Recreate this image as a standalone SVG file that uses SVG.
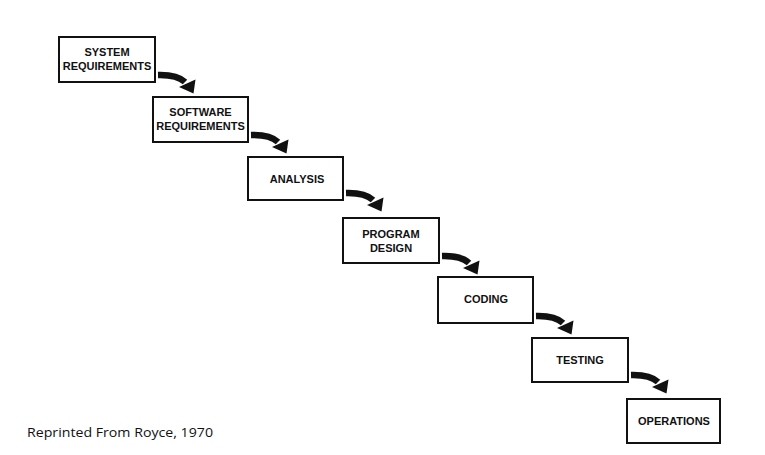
<svg xmlns="http://www.w3.org/2000/svg" width="765" height="455" viewBox="0 0 765 455">
<style>
.box{fill:#fff;stroke:#111;stroke-width:2}
.lbl{font-family:"Liberation Sans",Arial,sans-serif;font-weight:bold;font-size:11px;fill:#111;text-anchor:middle}
.note{font-family:"Open Sans","Liberation Sans",sans-serif;font-size:12.5px;fill:#111}
</style>
<defs>
<g id="arr">
<path d="M3,-7 Q22,-7.5 30,0" fill="none" stroke="#111" stroke-width="6.5"/>
<path d="M24,5 L40.5,-2.5 L38.5,11.5 Z" fill="#111"/>
</g>
</defs>
<rect width="765" height="455" fill="#fff"/>
<g id="connectors">
<use href="#arr" transform="translate(155,82)"/>
<use href="#arr" transform="translate(248,142)"/>
<use href="#arr" transform="translate(343,200)"/>
<use href="#arr" transform="translate(439,263)"/>
<use href="#arr" transform="translate(533,323)"/>
<use href="#arr" transform="translate(628,382)"/>
</g>
<g id="system-requirements">
<rect class="box" x="59" y="37" width="96" height="45"/>
<text class="lbl" x="107" y="56">SYSTEM</text>
<text class="lbl" x="107" y="70">REQUIREMENTS</text>
</g>
<g id="software-requirements">
<rect class="box" x="153" y="97" width="95" height="45"/>
<text class="lbl" x="200.5" y="116">SOFTWARE</text>
<text class="lbl" x="200.5" y="130">REQUIREMENTS</text>
</g>
<g id="analysis">
<rect class="box" x="248" y="157" width="95" height="43"/>
<text class="lbl" x="297" y="183">ANALYSIS</text>
</g>
<g id="program-design">
<rect class="box" x="343" y="218" width="96" height="45"/>
<text class="lbl" x="391" y="238">PROGRAM</text>
<text class="lbl" x="391" y="252">DESIGN</text>
</g>
<g id="coding">
<rect class="box" x="438" y="277" width="95" height="46"/>
<text class="lbl" x="486" y="303">CODING</text>
</g>
<g id="testing">
<rect class="box" x="532" y="338" width="96" height="44"/>
<text class="lbl" x="580" y="364">TESTING</text>
</g>
<g id="operations">
<rect class="box" x="627" y="399" width="93" height="44"/>
<text class="lbl" x="674" y="425">OPERATIONS</text>
</g>
<text class="note" x="27" y="437" textLength="186" lengthAdjust="spacingAndGlyphs">Reprinted From Royce, 1970</text>
</svg>
